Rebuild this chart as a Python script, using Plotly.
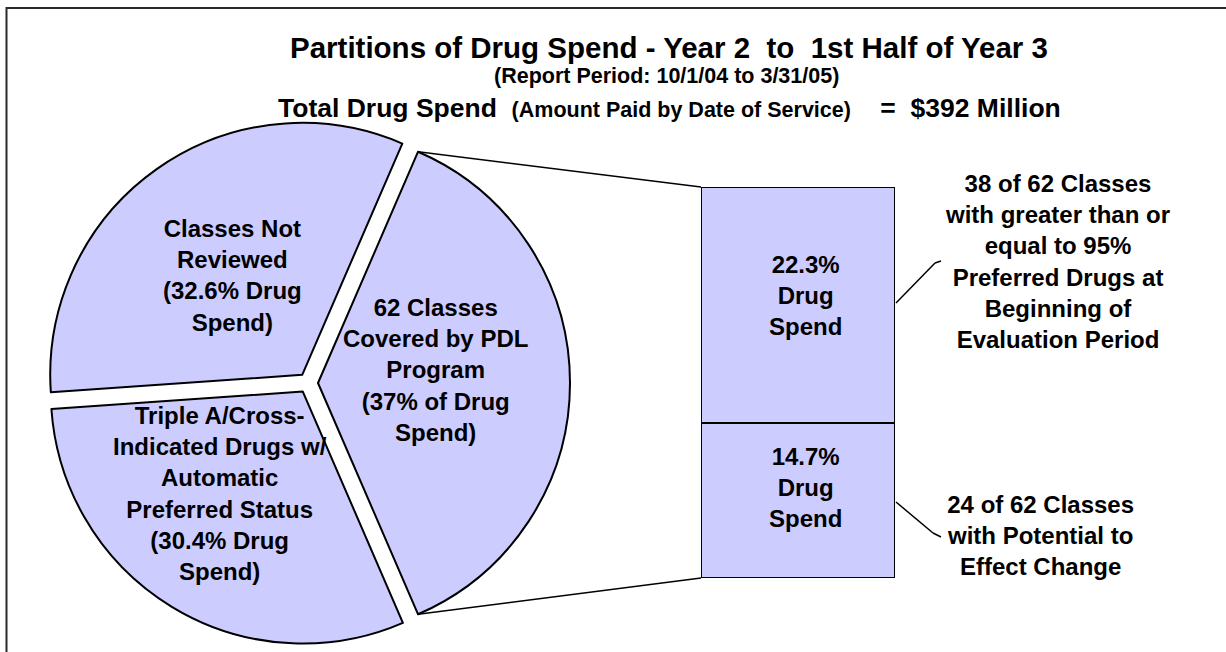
import math
import plotly.graph_objects as go

W, H = 1226, 652
FONT = "Liberation Sans, Arial, Helvetica, sans-serif"
FILL = "#CCCCFF"

# ---------------- data ----------------
pie_labels = ["Classes Not Reviewed",
              "62 Classes Covered by PDL Program",
              "Triple A/Cross-Indicated Drugs w/ Automatic Preferred Status"]
pie_values = [32.6, 37.0, 30.4]
pie_label_text = ["Classes Not<br>Reviewed<br>(32.6% Drug<br>Spend)",
                  "62 Classes<br>Covered by PDL<br>Program<br>(37% of Drug<br>Spend)",
                  "Triple A/Cross-<br>Indicated Drugs w/<br>Automatic<br>Preferred Status<br>(30.4% Drug<br>Spend)"]

bar_category = ["PDL"]
bar_labels = ["24 of 62 Classes with Potential to Effect Change",
              "38 of 62 Classes with >= 95% Preferred Drugs"]
bar_values = [14.7, 22.3]
bar_text = ["14.7%<br>Drug<br>Spend", "22.3%<br>Drug<br>Spend"]
side_text = ["24 of 62 Classes<br>with Potential to<br>Effect Change",
             "38 of 62 Classes<br>with greater than or<br>equal to 95%<br>Preferred Drugs at<br>Beginning of<br>Evaluation Period"]

title_main = "Partitions of Drug Spend - Year 2\u00a0 to\u00a0 1st Half of Year 3"
title_sub = "(Report Period: 10/1/04 to 3/31/05)"
title_total = ("Total Drug Spend\u00a0 <span style='font-size:21.5px'>(Amount Paid by Date of Service)</span>"
               "\u00a0\u00a0\u00a0 =\u00a0 $392 Million")

# ---------------- layout geometry (pixels) ----------------
cx, cy, R, explode = 308.0, 383.0, 252.0, 10.0
pull = explode / R
S = 2 * R * (1 + pull)
total = sum(pie_values)
half_pdl = 360.0 * pie_values[1] / total / 2.0
rotation = 90.0 - half_pdl - 360.0 * pie_values[0] / total

bx0, bx1, by_top, by_bot = 701.0, 895.0, 187.0, 578.0

def px(x):
    return x / W

def py(y):
    return 1 - y / H

fig = go.Figure()

fig.add_trace(go.Pie(
    labels=pie_labels, values=pie_values, sort=False, direction="clockwise",
    rotation=rotation, pull=[pull] * len(pie_values),
    marker=dict(colors=[FILL] * 3, line=dict(color="black", width=2)),
    textinfo="none", hoverinfo="label+percent", showlegend=False,
    domain=dict(x=[px(cx - S / 2), px(cx + S / 2)], y=[py(cy + S / 2), py(cy - S / 2)]),
))

for v, lab in zip(bar_values, bar_labels):
    fig.add_trace(go.Bar(
        x=bar_category, y=[v], name=lab, showlegend=False,
        marker=dict(color=FILL, line=dict(color="black", width=2)),
        hoverinfo="name+y",
    ))

# annotations
ann = []
ann.append(dict(text=title_main, x=px(669), y=py(47), font=dict(size=29.5)))
ann.append(dict(text=title_sub, x=px(666), y=py(76), font=dict(size=21.5)))
ann.append(dict(text=title_total, x=px(669), y=py(108), font=dict(size=26.5)))

pie_label_pos = [(232, 275), (436, 370), (220, 494)]
for t, (x, y) in zip(pie_label_text, pie_label_pos):
    ann.append(dict(text=t, x=px(x), y=py(y), font=dict(size=24)))

cum = 0
shifts = [13, 9]
for v, t, sh in zip(bar_values, bar_text, shifts):
    ann.append(dict(text=t, x=0, y=cum + v / 2, xref="x", yref="y",
                    xshift=7, yshift=sh, font=dict(size=24)))
    cum += v

side_pos = [(1040, 535), (1057, 261)]
for t, (x, y) in zip(side_text, side_pos):
    ann.append(dict(text=t, x=px(x), y=py(y), font=dict(size=24)))

for a in ann:
    a.setdefault("xref", "paper")
    a.setdefault("yref", "paper")
    a.update(showarrow=False, xanchor="center", yanchor="middle")
    a["font"].update(family=FONT, color="black", weight="bold")

# shapes
shapes = []
# outer frame
shapes.append(dict(type="rect", xref="paper", yref="paper",
                   x0=px(6.5), x1=1.05, y0=-0.05, y1=py(8),
                   line=dict(color="#2a2a2a", width=2)))
# connectors from exploded PDL slice to bar
sx = cx + explode
a = math.radians(half_pdl)
top_pt = (sx + R * math.cos(a), cy - R * math.sin(a))
bot_pt = (sx + R * math.cos(a), cy + R * math.sin(a))
for p, by in [(top_pt, by_top), (bot_pt, by_bot)]:
    shapes.append(dict(type="line", xref="paper", yref="paper",
                       x0=px(p[0]), y0=py(p[1]), x1=px(bx0), y1=py(by),
                       line=dict(color="black", width=1.5)))
# leader lines
leaders = [[(896, 303), (935, 263), (941, 261)],
           [(896, 502), (933, 533), (941, 537)]]
for pts in leaders:
    for (x0, y0), (x1, y1) in zip(pts[:-1], pts[1:]):
        shapes.append(dict(type="line", xref="paper", yref="paper",
                           x0=px(x0), y0=py(y0), x1=px(x1), y1=py(y1),
                           line=dict(color="black", width=1.5)))

fig.update_layout(
    width=W, height=H, margin=dict(l=0, r=0, t=0, b=0),
    paper_bgcolor="white", plot_bgcolor="rgba(0,0,0,0)",
    barmode="stack", bargap=0,
    xaxis=dict(domain=[px(bx0), px(bx1)], range=[-0.5, 0.5], visible=False, fixedrange=True),
    yaxis=dict(domain=[py(by_bot), py(by_top)], range=[0, sum(bar_values)], visible=False, fixedrange=True),
    annotations=ann, shapes=shapes,
    font=dict(family=FONT, color="black"),
)

fig.write_html("out.html", config=dict(displayModeBar=False),
               post_script="document.body.style.margin='0px';document.body.style.padding='0px';document.body.style.overflow='hidden';")
